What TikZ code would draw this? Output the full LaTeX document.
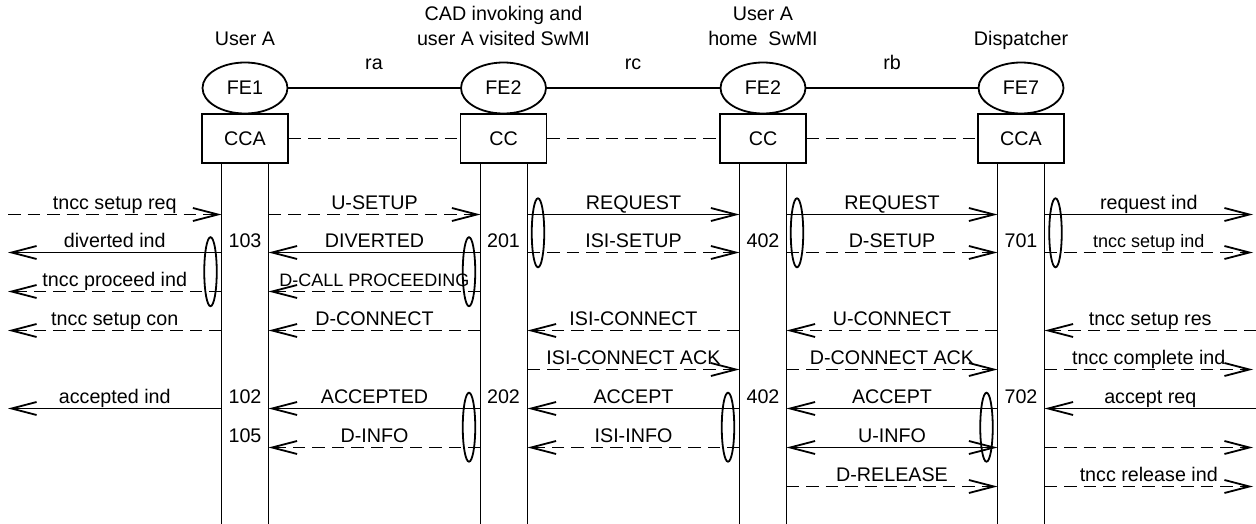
\documentclass[tikz,border=0pt]{standalone}
\usepackage{fontspec}
\setmainfont{Liberation Sans}
\usetikzlibrary{arrows.meta,shapes.geometric}
\newcommand\mainfs{\fontsize{19.7}{24}\selectfont}
\newcommand\smallfs{\fontsize{18}{22}\selectfont}
\newcommand\msg[5]{\draw[#1] (#2 |- #4) -- node[lbl]{#5} (#3 |- #4);}
\begin{document}
\begin{tikzpicture}[x=1pt,y=-1pt,line width=1.8pt,
  every node/.style={font=\mainfs,inner sep=0pt},
  fe/.style={draw,ellipse,minimum width=85pt,minimum height=51pt},
  fbox/.style={draw,rectangle,minimum width=86pt,minimum height=49pt},
  grp/.style={draw,ellipse,minimum width=12.5pt,minimum height=69pt},
  lbl/.style={anchor=base,yshift=5.5pt},
  dsh/.style={dash pattern=on 12.5pt off 7pt},
  mybarb/.tip={Straight Barb[length=25pt,width=13pt]}]
\useasboundingbox (0,0) rectangle (1256,524);
% x positions
\coordinate (XL) at (8,0);
\coordinate (XR) at (1253,0);
\coordinate (RE) at (1256,0);
\coordinate (C1) at (245,0);
\coordinate (C2) at (503.5,0);
\coordinate (C3) at (763,0);
\coordinate (C4) at (1021,0);
\coordinate (A1) at (221.5,0);  \coordinate (B1) at (268.5,0);
\coordinate (A2) at (480.5,0);  \coordinate (B2) at (527.5,0);
\coordinate (A3) at (739.5,0);  \coordinate (B3) at (786.5,0);
\coordinate (A4) at (997.5,0);  \coordinate (B4) at (1044.5,0);
\coordinate (BOT) at (0,524);
% rows
\coordinate (R1) at (0,214.5);
\coordinate (R2) at (0,252.5);
\coordinate (R3) at (0,291.5);
\coordinate (R4) at (0,330.5);
\coordinate (R5) at (0,369.5);
\coordinate (R6) at (0,408.5);
\coordinate (R7) at (0,447.5);
\coordinate (R8) at (0,486.5);
% headers
\node[anchor=base] (h1) at (245,45.7) {User A};
\node[anchor=base] (h2a) at (503.5,20.7) {CAD invoking and};
\node[anchor=base] (h2b) at (503.5,45.7) {user A visited SwMI};
\node[anchor=base] (h3a) at (763,20.7) {User A};
\node[anchor=base] (h3b) at (763,45.7) {home\ \ SwMI};
\node[anchor=base] (h4) at (1021,45.7) {Dispatcher};
\node[anchor=base] (ra) at (374,70) {ra};
\node[anchor=base] (rc) at (633,70) {rc};
\node[anchor=base] (rb) at (892,70) {rb};
% FE ellipses and boxes
\node[fe] (fe1) at (245,88) {FE1};
\node[fe] (fe2a) at (503.5,88) {FE2};
\node[fe] (fe2b) at (763,88) {FE2};
\node[fe] (fe7) at (1021,88) {FE7};
\node[fbox] (cca1) at (245,138.5) {CCA};
\node[fbox] (cc2) at (503.5,138.5) {CC};
\node[fbox] (cc3) at (763,138.5) {CC};
\node[fbox] (cca4) at (1021,138.5) {CCA};
\draw (fe1) -- (fe2a);
\draw (fe2a) -- (fe2b);
\draw (fe2b) -- (fe7);
\draw[dsh] (cca1) -- (cc2);
\draw[dsh] (cc2) -- (cc3);
\draw[dsh] (cc3) -- (cca4);
% lifelines
\draw (cca1.south -| A1) -- (A1 |- BOT);
\draw (cca1.south -| B1) -- (B1 |- BOT);
\draw (cc2.south -| A2) -- (A2 |- BOT);
\draw (cc2.south -| B2) -- (B2 |- BOT);
\draw (cc3.south -| A3) -- (A3 |- BOT);
\draw (cc3.south -| B3) -- (B3 |- BOT);
\draw (cca4.south -| A4) -- (A4 |- BOT);
\draw (cca4.south -| B4) -- (B4 |- BOT);
% numbers
\node[lbl] (n103) at (C1 |- R2) {103};
\node[lbl] (n201) at (C2 |- R2) {201};
\node[lbl] (n402a) at (C3 |- R2) {402};
\node[lbl] (n701) at (C4 |- R2) {701};
\node[lbl] (n102) at (C1 |- R6) {102};
\node[lbl] (n202) at (C2 |- R6) {202};
\node[lbl] (n402b) at (C3 |- R6) {402};
\node[lbl] (n702) at (C4 |- R6) {702};
\node[lbl] (n105) at (C1 |- R7) {105};
% row 1
\msg{dsh,-mybarb}{XL}{A1}{R1}{tncc setup req}
\msg{dsh,-mybarb}{B1}{A2}{R1}{U-SETUP}
\msg{-mybarb}{B2}{A3}{R1}{REQUEST}
\msg{-mybarb}{B3}{A4}{R1}{REQUEST}
\msg{-mybarb}{B4}{XR}{R1}{request ind}
% row 2
\msg{-mybarb}{A1}{XL}{R2}{diverted ind}
\msg{-mybarb}{A2}{B1}{R2}{DIVERTED}
\msg{dsh,-mybarb}{B2}{A3}{R2}{ISI-SETUP}
\msg{dsh,-mybarb}{B3}{A4}{R2}{D-SETUP}
\msg{dsh,-mybarb}{B4}{XR}{R2}{\smallfs tncc setup ind}
% row 3
\msg{dsh,-mybarb}{A1}{XL}{R3}{tncc proceed ind}
\msg{dsh,-mybarb}{A2}{B1}{R3}{\smallfs D-CALL PROCEEDING}
% row 4
\msg{dsh,-mybarb}{A1}{XL}{R4}{tncc setup con}
\msg{dsh,-mybarb}{A2}{B1}{R4}{D-CONNECT}
\msg{dsh,-mybarb}{A3}{B2}{R4}{ISI-CONNECT}
\msg{dsh,-mybarb}{A4}{B3}{R4}{U-CONNECT}
\msg{dsh,-mybarb}{RE}{B4}{R4}{tncc setup res}
% row 5
\msg{dsh,-mybarb}{B2}{A3}{R5}{ISI-CONNECT ACK}
\msg{dsh,-mybarb}{B3}{A4}{R5}{D-CONNECT ACK}
\msg{dsh,-mybarb}{B4}{XR}{R5}{tncc complete ind}
% row 6
\msg{-mybarb}{A1}{XL}{R6}{accepted ind}
\msg{-mybarb}{A2}{B1}{R6}{ACCEPTED}
\msg{-mybarb}{A3}{B2}{R6}{ACCEPT}
\msg{-mybarb}{A4}{B3}{R6}{ACCEPT}
\msg{-mybarb}{RE}{B4}{R6}{accept req}
% row 7
\msg{dsh,-mybarb}{A2}{B1}{R7}{D-INFO}
\msg{dsh,-mybarb}{A3}{B2}{R7}{ISI-INFO}
\msg{mybarb-mybarb}{B3}{A4}{R7}{U-INFO}
\msg{dsh,-mybarb}{B4}{XR}{R7}{}
% row 8
\msg{dsh,-mybarb}{B3}{A4}{R8}{D-RELEASE}
\msg{dsh,-mybarb}{B4}{XR}{R8}{tncc release ind}
% grouping ellipses
\node[grp] (g1) at (210.5,271.7) {};
\node[grp] (g2) at (469,271.7) {};
\node[grp] (g3) at (538,232.8) {};
\node[grp] (g4) at (797,232.8) {};
\node[grp] (g5) at (1055.5,232.8) {};
\node[grp] (g6) at (469,427.2) {};
\node[grp] (g7) at (728,427.2) {};
\node[grp] (g8) at (986.5,427.2) {};
\end{tikzpicture}
\end{document}
